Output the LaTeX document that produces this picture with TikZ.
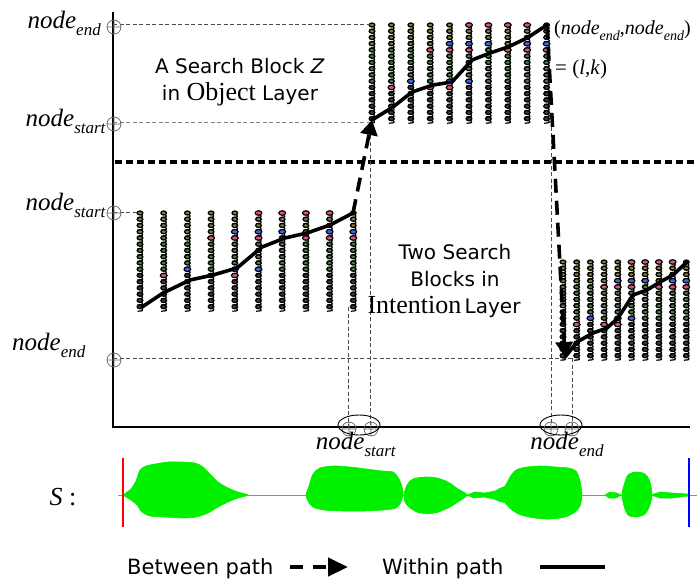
\documentclass[tikz,border=0pt]{standalone}
\usepackage{fontspec}
\setmainfont{Liberation Serif}
\setsansfont{DejaVu Sans}
\usetikzlibrary{arrows.meta,positioning}
\definecolor{coilolive}{RGB}{135,130,50}
\definecolor{coilgreen}{RGB}{75,125,65}
\definecolor{coildark}{RGB}{60,60,60}
\definecolor{coilpink}{RGB}{220,80,125}
\definecolor{coilblue}{RGB}{60,100,230}
\definecolor{wavegreen}{RGB}{0,240,0}
\newcommand\ndlabel[1]{\textit{node}\raisebox{-0.3em}{\fontsize{17}{18}\selectfont\textit{#1}}}
\newcommand\ndsmall[1]{\textit{node}\raisebox{-0.3em}{\fontsize{14}{15}\selectfont\textit{#1}}}

\begin{document}
\begin{tikzpicture}[
  x=1pt, y=-1pt,
  every node/.style={inner sep=0pt},
  axis/.style={line width=1.4pt},
  guide/.style={black!70, dash pattern=on 4pt off 2.5pt, line width=0.7pt},
  layersep/.style={line width=4pt, dash pattern=on 7pt off 4pt},
  within/.style={line width=3.6pt, line join=round, line cap=round},
  between/.style={line width=3.6pt, dash pattern=on 14pt off 8pt,
                  -{Triangle[length=15pt,width=17pt]}},
  lbl/.style={font=\fontsize{25}{27}\selectfont},
  txt/.style={font=\sffamily\fontsize{20}{24}\selectfont},
  oplus/.pic={\draw[gray!80!black, line width=0.7pt] (0,0) circle (7) (-7,0) -- (7,0) (0,-7) -- (0,7);},
  wave/.style={fill=wavegreen, draw=wavegreen, line width=0.6pt}
]
\useasboundingbox (0,0) rectangle (697,581);

% coil columns of the three search blocks
\foreach \bx/\by/\dx in {372/25/19.4, 140/213/23.7, 563/262/13.7}{
  \foreach \c in {0,...,9}{
    \foreach \r in {0,...,15}{
      \ifnum\r<4 \def\cc{coilolive}\else\ifnum\r<10 \def\cc{coilgreen}\else\def\cc{coildark}\fi\fi
      \draw[line width=1.2pt] (\bx+\c*\dx+1.5,\by+\r*6.25+1.5) .. controls (\bx+\c*\dx+3.5,\by+\r*6.25+4) .. (\bx+\c*\dx-2.5,\by+\r*6.25+4.5);
      \filldraw[fill=\cc, line width=1.3pt] (\bx+\c*\dx,\by+\r*6.25) ellipse (2.8 and 2);
    }
  }
  \foreach \c/\r/\cc in {5/0/coilpink, 6/0/coilpink, 7/0/coilpink, 8/0/coilpink,
      4/3/coilblue, 5/3/coilblue, 6/3/coilblue, 8/3/coilblue, 9/3/coilblue,
      3/4/coilpink, 4/4/coilpink, 5/4/coilpink, 7/4/coilpink, 8/4/coilpink, 9/4/coilpink,
      2/9/coilblue, 4/9/coilblue, 5/9/coilblue,
      1/10/coilpink, 3/10/coilpink, 4/10/coilpink}{
    \filldraw[fill=\cc, line width=1.1pt] (\bx+\c*\dx,\by+\r*6.25) ellipse (3.4 and 2.2);
  }
}

% axes and guides
\coordinate (top) at (113,12);
\coordinate (orig) at (113,427);
\coordinate (right) at (690,427);
\draw[axis] (top) -- (orig) -- (right);
\draw[layersep] (115,162) -- (697,162);

\draw[guide] (113,24) -- (372,24);
\draw[guide, gray] (113,122) -- (372,122);
\draw[guide] (113,212) -- (137,212);
\draw[guide] (113,358) -- (572,358);
\draw[guide] (348,307) -- (348,427);
\draw[guide] (370,122) -- (370,427);
\draw[guide] (551,120) -- (551,427);
\draw[guide] (572,358) -- (572,427);

\pic at (114,27) {oplus};
\pic at (114,124) {oplus};
\pic at (114,213) {oplus};
\pic at (114,360) {oplus};
\pic at (349,429) {oplus};
\pic at (371,429) {oplus};
\pic at (551,429) {oplus};
\pic at (572,429) {oplus};
\draw[line width=0.9pt] (359,425) ellipse (21 and 10);
\draw[line width=0.9pt] (561,425) ellipse (21 and 10);

% within paths
\coordinate (zs) at (372,120);
\coordinate (ze) at (547,25);
\coordinate (as) at (142,307);
\coordinate (ae) at (353,213);
\coordinate (bs) at (565,357);
\coordinate (be) at (687,262);
\draw[within] (zs) -- (393,107) -- (412,92) -- (433,85) -- (452,82) -- (472,60)
  -- (490,53) -- (508,47) -- (527,38) -- (ze);
\draw[within] (as) -- (163,293) -- (190,280) -- (213,275) -- (237,268) -- (262,247)
  -- (285,238) -- (307,233) -- (330,225) -- (ae);
\draw[within] (bs) -- (577,342) -- (593,333) -- (607,328) -- (618,318) -- (633,295)
  -- (647,290) -- (660,282) -- (673,275) -- (be);

% between paths
\draw[between] (ae) -- (zs);
\draw[between] (ze) -- (bs);

% labels
\node[lbl, anchor=base east] (lEndTop) at (101,28) {\ndlabel{end}};
\node[lbl, anchor=base east] (lStartTop) at (106,126) {\ndlabel{start}};
\node[lbl, anchor=base east] (lStartLow) at (106,210) {\ndlabel{start}};
\node[lbl, anchor=base west] (lEndLow) at (12,350) {\ndlabel{end}};
\node[lbl, anchor=base] (xStart) at (356,449) {\ndlabel{start}};
\node[lbl, anchor=base] (xEnd) at (567,449) {\ndlabel{end}};
\node[font=\fontsize{20}{22}\selectfont, anchor=base west] (corner) at (554,34)
  {(\ndsmall{end},\ndsmall{end})};
\node[font=\fontsize{21}{23}\selectfont, anchor=base west] (lk) at (555,74)
  {= (\textit{l},\textit{k})};

\node[txt, anchor=base] (zA) at (240,73) {A Search Block \textit{Z}};
\node[txt, anchor=base] (zB) at (240,100) {in {\rmfamily\fontsize{26}{28}\selectfont Object} Layer};
\node[txt, anchor=base] (iA) at (455,259) {Two Search};
\node[txt, anchor=base] (iB) at (455,286) {Blocks in};
\node[txt, anchor=base] (iC) at (444,313) {{\rmfamily\fontsize{26}{28}\selectfont Intention}\,Layer};

% signal S
\node[font=\fontsize{26}{28}\selectfont, anchor=base] (sig) at (63,505) {\textit{S} :};
\draw[wavegreen, line width=0.8pt] (118,495) -- (697,495);
\fill[wave] plot[smooth cycle, tension=0.5] coordinates {(124,495) (131,489) (136,481)
  (140,470) (146,466) (155,464) (168,462) (182,462) (195,463) (203,467) (210,474)
  (218,482) (228,488) (238,492) (248,495) (238,498) (228,502) (218,507) (208,513)
  (196,517) (182,518) (165,517) (150,516) (142,512) (137,505) (131,500)};
\fill[wave] plot[smooth cycle, tension=0.5] coordinates {(306,495) (309,486) (313,474)
  (320,468) (334,466) (350,467) (366,469) (382,471) (393,472) (399,479) (403,491)
  (401,502) (396,508) (383,510) (364,511) (344,511) (324,510) (313,507) (308,501)};
\fill[wave] plot[smooth cycle, tension=0.5] coordinates {(404,495) (407,485) (413,479)
  (425,477) (437,478) (448,482) (458,489) (467,495) (458,502) (448,508) (435,513)
  (420,513) (410,508) (405,502)};
\fill[wave] (467,495) -- (475,492) -- (485,493) -- (495,491) -- (501,488) -- (501,502)
  -- (494,499) -- (484,497) -- (474,498) -- cycle;
\fill[wave] plot[smooth cycle, tension=0.5] coordinates {(498,490) (505,486) (510,477)
  (516,470) (527,467) (541,466) (556,467) (568,468) (576,471) (580,481) (582,495)
  (580,506) (575,512) (565,517) (550,519) (535,518) (521,515) (512,510) (505,503)
  (499,500)};
\fill[wave] (605,495) -- (610,492) -- (617,493) -- (621,495) -- (616,498) -- (609,498) -- cycle;
\fill[wave] plot[smooth cycle, tension=0.5] coordinates {(622,495) (624,485) (628,475)
  (636,472) (645,474) (650,482) (652,495) (650,505) (645,514) (636,517) (628,515)
  (624,506)};
\fill[wave] (651,495) -- (660,492) -- (672,493) -- (688,494) -- (688,496) -- (672,498)
  -- (660,498) -- cycle;
\draw[red, line width=2pt] (123,458) -- (123,527);
\draw[blue, line width=2pt] (689,458) -- (689,527);

% legend
\coordinate (lgB1) at (290,567);
\coordinate (lgB2) at (348,567);
\coordinate (lgW1) at (540,567);
\coordinate (lgW2) at (605,567);
\node[txt, font=\sffamily\fontsize{21}{24}\selectfont, anchor=base west] (lgB) at (127,574) {Between path};
\node[txt, font=\sffamily\fontsize{21}{24}\selectfont, anchor=base west] (lgW) at (382,574) {Within path};
\draw[between, line width=4.5pt, dash pattern=on 13pt off 10pt,
  -{Triangle[length=20pt,width=18pt]}] (lgB1) -- (lgB2);
\draw[line width=4.5pt] (lgW1) -- (lgW2);

\end{tikzpicture}
\end{document}
